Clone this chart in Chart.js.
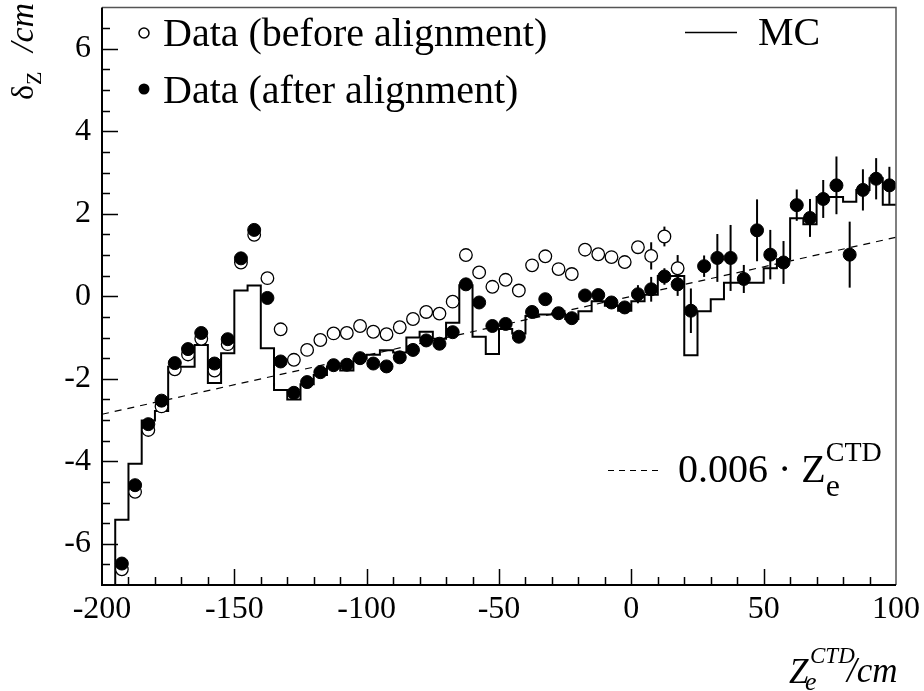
<!DOCTYPE html>
<html>
<head>
<meta charset="utf-8">
<script src="https://cdn.jsdelivr.net/npm/chart.js@4.4.1/dist/chart.umd.min.js"></script>
<style>
  html, body { margin: 0; padding: 0; background: #fff; }
  #dz-chart { display: block; }
</style>
</head>
<body>
<canvas id="dz-chart" width="924" height="691"></canvas>
<script>
// bin centres (5 cm bins, -195 .. 100)
let zBins = [-192.5,-187.5,-182.5,-177.5,-172.5,-167.5,-162.5,-157.5,-152.5,-147.5,
             -142.5,-137.5,-132.5,-127.5,-122.5,-117.5,-112.5,-107.5,-102.5,-97.5,
             -92.5,-87.5,-82.5,-77.5,-72.5,-67.5,-62.5,-57.5,-52.5,-47.5,
             -42.5,-37.5,-32.5,-27.5,-22.5,-17.5,-12.5,-7.5,-2.5,2.5,
             7.5,12.5,17.5,22.5,27.5,32.5,37.5,42.5,47.5,52.5,
             57.5,62.5,67.5,72.5,77.5,82.5,87.5,92.5,97.5];

// data after alignment (filled)
let afterAlign = [-6.48,-4.58,-3.10,-2.53,-1.62,-1.28,-0.89,-1.63,-1.04,0.92,
                  1.61,-0.04,-1.58,-2.34,-2.08,-1.84,-1.67,-1.66,-1.50,-1.63,
                  -1.70,-1.48,-1.30,-1.07,-1.15,-0.87,0.29,-0.15,-0.72,-0.67,
                  -0.98,-0.38,-0.07,-0.41,-0.53,0.02,0.03,-0.15,-0.27,0.05,
                  0.17,0.48,0.29,-0.35,0.73,0.93,0.93,0.42,1.60,1.01,
                  0.82,2.21,1.90,2.36,2.69,1.01,2.58,2.85,2.69];
let afterErr = [0.05,0.05,0.05,0.05,0.05,0.05,0.05,0.05,0.05,0.05,
                0.05,0.05,0.05,0.05,0.05,0.05,0.05,0.05,0.05,0.05,
                0.05,0.05,0.05,0.05,0.05,0.05,0.05,0.05,0.05,0.05,
                0.05,0.05,0.05,0.05,0.05,0.05,0.05,0.08,0.08,0.22,
                0.30,0.20,0.28,0.54,0.26,0.58,0.80,0.34,0.75,0.60,
                0.52,0.38,0.46,0.46,0.70,0.80,0.50,0.50,0.45];

// data before alignment (open)
let beforeAlign = [-6.62,-4.74,-3.24,-2.67,-1.77,-1.41,-1.03,-1.80,-1.16,0.82,
                   1.49,0.44,-0.80,-1.54,-1.30,-1.06,-0.90,-0.89,-0.72,-0.86,
                   -0.92,-0.75,-0.55,-0.38,-0.42,-0.13,1.00,0.58,0.23,0.40,
                   0.14,0.75,0.97,0.66,0.54,1.13,1.02,0.95,0.83,1.19,
                   0.98,1.45,0.68,null,null,null,null,null,null,null,
                   null,null,null,null,null,null,null,null,null];
let beforeErr = [0.05,0.05,0.05,0.05,0.05,0.05,0.05,0.05,0.05,0.05,
                 0.05,0.05,0.05,0.05,0.05,0.05,0.05,0.05,0.05,0.05,
                 0.05,0.05,0.05,0.05,0.05,0.05,0.05,0.05,0.05,0.05,
                 0.05,0.05,0.05,0.05,0.05,0.05,0.05,0.05,0.08,0.12,
                 0.33,0.24,0.32,0,0,0,0,0,0,0,
                 0,0,0,0,0,0,0,0,0];

// MC histogram
let mcValues = [-5.42,-4.06,-3.01,-2.78,-1.71,-1.71,-1.18,-2.10,-1.38,0.14,
                0.26,-1.26,-2.27,-2.50,-2.13,-1.91,-1.70,-1.80,-1.51,-1.42,
                -1.31,-1.36,-1.00,-0.86,-1.03,-0.64,0.27,-0.98,-1.40,-0.79,
                -0.90,-0.48,-0.44,-0.42,-0.55,-0.36,-0.12,-0.23,-0.35,-0.12,
                0.04,0.49,0.49,-1.43,-0.36,-0.07,0.33,0.33,0.33,0.68,
                0.90,1.89,1.75,2.41,2.41,2.29,2.58,2.86,2.22];

// dashed reference line
let fitX = [-200, 100];
let fitY = [-2.86, 1.43];

let xTicks = [-200, -150, -100, -50, 0, 50, 100];
let yTicks = [-6, -4, -2, 0, 2, 4, 6];

const SERIF = "'Liberation Serif', 'DejaVu Serif', serif";
const binW = 5;

function pts(xs, ys) {
    let out = [];
    for (let i = 0; i < xs.length; i++) {
        if (ys[i] !== null) out.push({x: xs[i], y: ys[i]});
    }
    return out;
}

// histogram outline: start from the axis floor, step at bin edges
let mcPoints = [{x: zBins[0] - binW / 2, y: -7}, {x: zBins[0] - binW / 2, y: mcValues[0]}]
    .concat(pts(zBins, mcValues))
    .concat([{x: zBins[zBins.length - 1] + binW / 2, y: mcValues[mcValues.length - 1]}]);

let errBars = {
    id: 'errBars',
    beforeDatasetsDraw(chart) {
        let ctx = chart.ctx, xs = chart.scales.x, ys = chart.scales.y;
        ctx.save();
        ctx.strokeStyle = '#000';
        ctx.lineWidth = 2;
        let sets = [[beforeAlign, beforeErr], [afterAlign, afterErr]];
        sets.forEach(function (s) {
            for (let i = 0; i < zBins.length; i++) {
                if (s[0][i] === null || !s[1][i]) continue;
                let px = xs.getPixelForValue(zBins[i]);
                ctx.beginPath();
                ctx.moveTo(px, ys.getPixelForValue(s[0][i] - s[1][i]));
                ctx.lineTo(px, ys.getPixelForValue(s[0][i] + s[1][i]));
                ctx.stroke();
            }
        });
        ctx.restore();
    }
};

let frame = {
    id: 'frame',
    afterDraw(chart) {
        let ctx = chart.ctx, a = chart.chartArea;
        let xs = chart.scales.x, ys = chart.scales.y;
        ctx.save();
        // box
        ctx.strokeStyle = '#555';
        ctx.lineWidth = 1.5;
        ctx.beginPath();
        ctx.moveTo(a.left, a.top); ctx.lineTo(a.right, a.top); ctx.lineTo(a.right, a.bottom);
        ctx.stroke();
        ctx.strokeStyle = '#000';
        ctx.lineWidth = 2;
        ctx.beginPath();
        ctx.moveTo(a.left, a.top); ctx.lineTo(a.left, a.bottom); ctx.lineTo(a.right, a.bottom);
        ctx.stroke();

        // ticks pointing inward
        ctx.lineWidth = 1.5;
        ctx.beginPath();
        for (let v = ys.min + 0.5; v < ys.max; v += 0.5) {
            let py = Math.round(ys.getPixelForValue(v)) + 0.5;
            let len = (Math.abs(v % 2) < 1e-6) ? 16 : 8;
            ctx.moveTo(a.left, py); ctx.lineTo(a.left + len, py);
        }
        for (let v = xs.min + 10; v < xs.max; v += 10) {
            let px = Math.round(xs.getPixelForValue(v)) + 0.5;
            let len = (Math.abs(v % 50) < 1e-6) ? 16 : 8;
            ctx.moveTo(px, a.bottom); ctx.lineTo(px, a.bottom - len);
        }
        ctx.stroke();

        ctx.fillStyle = '#000';
        ctx.textBaseline = 'alphabetic';
        ctx.textAlign = 'left';

        // legend, top left
        ctx.lineWidth = 1.5;
        ctx.beginPath();
        ctx.arc(144, 33, 5, 0, Math.PI * 2);
        ctx.fillStyle = '#fff'; ctx.fill();
        ctx.strokeStyle = '#000'; ctx.stroke();
        ctx.fillStyle = '#000';
        ctx.beginPath();
        ctx.arc(144, 89, 5.5, 0, Math.PI * 2);
        ctx.fill();
        ctx.font = '40px ' + SERIF;
        ctx.fillText('Data (before alignment)', 163, 46);
        ctx.fillText('Data (after alignment)', 163, 103);

        // legend, MC
        ctx.beginPath();
        ctx.moveTo(685, 32.5); ctx.lineTo(737, 32.5);
        ctx.stroke();
        ctx.fillText('MC', 758, 45);

        // legend, line
        ctx.setLineDash([6, 5]);
        ctx.lineWidth = 1.2;
        ctx.beginPath();
        ctx.moveTo(608, 470.5); ctx.lineTo(660, 470.5);
        ctx.stroke();
        ctx.setLineDash([]);
        let t1 = '0.006 \u00B7 Z';
        ctx.fillText(t1, 678, 482);
        let w1 = ctx.measureText(t1).width;
        ctx.font = '28px ' + SERIF;
        ctx.fillText('CTD', 678 + w1, 461);
        ctx.font = '32px ' + SERIF;
        ctx.fillText('e', 678 + w1, 496);

        // y axis title
        ctx.save();
        ctx.translate(33, 100);
        ctx.rotate(-Math.PI / 2);
        ctx.font = '32px ' + SERIF;
        ctx.fillText('\u03B4', 0, 0);
        let wd = ctx.measureText('\u03B4').width;
        ctx.font = '22px ' + SERIF;
        ctx.fillText('Z', wd, 8);
        ctx.font = 'italic 34px ' + SERIF;
        ctx.fillText('/cm', 48, 0);
        ctx.restore();

        // x axis title
        ctx.font = 'italic 35px ' + SERIF;
        ctx.fillText('Z', 789, 683);
        ctx.fillText('/cm', 847, 682);
        ctx.font = 'italic 23px ' + SERIF;
        ctx.fillText('CTD', 810, 663);
        ctx.font = 'italic 26px ' + SERIF;
        ctx.fillText('e', 805, 690);
        ctx.restore();
    }
};

let canvas = document.getElementById('dz-chart');
let chart = new Chart(canvas.getContext('2d'), {
    type: 'scatter',
    data: {
        datasets: [
            {
                label: 'Data (after alignment)',
                data: pts(zBins, afterAlign),
                pointRadius: 6.5,
                pointBackgroundColor: '#000',
                pointBorderColor: '#000',
                pointBorderWidth: 1,
                showLine: false,
                order: 1
            },
            {
                label: 'Data (before alignment)',
                data: pts(zBins, beforeAlign),
                pointRadius: 6.3,
                pointBackgroundColor: '#fff',
                pointBorderColor: '#000',
                pointBorderWidth: 1.3,
                showLine: false,
                order: 2
            },
            {
                label: 'MC',
                data: mcPoints,
                showLine: true,
                stepped: 'middle',
                borderColor: '#000',
                borderWidth: 2,
                pointRadius: 0,
                fill: false,
                order: 3
            },
            {
                label: '0.006 Z',
                data: pts(fitX, fitY),
                showLine: true,
                borderColor: '#000',
                borderWidth: 1.2,
                borderDash: [7, 6],
                pointRadius: 0,
                fill: false,
                order: 4
            }
        ]
    },
    options: {
        responsive: false,
        animation: false,
        devicePixelRatio: 1,
        layout: { padding: { left: 0, top: 3, right: 28, bottom: 0 } },
        plugins: { legend: { display: false }, tooltip: { enabled: false } },
        scales: {
            x: {
                type: 'linear',
                min: -200,
                max: 100,
                afterBuildTicks: function (s) { s.ticks = xTicks.map(function (v) { return {value: v}; }); },
                afterFit: function (s) { s.height = 106; s.paddingLeft = 0; s.paddingRight = 0; },
                ticks: {
                    autoSkip: false,
                    maxRotation: 0,
                    padding: 5,
                    color: '#000',
                    font: { family: SERIF, size: 32 },
                    callback: function (v) { return String(v); }
                },
                grid: { display: false, drawTicks: false },
                border: { display: false }
            },
            y: {
                type: 'linear',
                min: -7,
                max: 7,
                afterBuildTicks: function (s) { s.ticks = yTicks.map(function (v) { return {value: v}; }); },
                afterFit: function (s) { s.width = 102; s.paddingTop = 0; s.paddingBottom = 0; },
                ticks: {
                    autoSkip: false,
                    crossAlign: 'near',
                    mirror: false,
                    padding: 11,
                    color: '#000',
                    font: { family: SERIF, size: 32 },
                    callback: function (v) { return String(v); }
                },
                grid: { display: false, drawTicks: false },
                border: { display: false }
            }
        }
    },
    plugins: [errBars, frame]
});
</script>
</body>
</html>
